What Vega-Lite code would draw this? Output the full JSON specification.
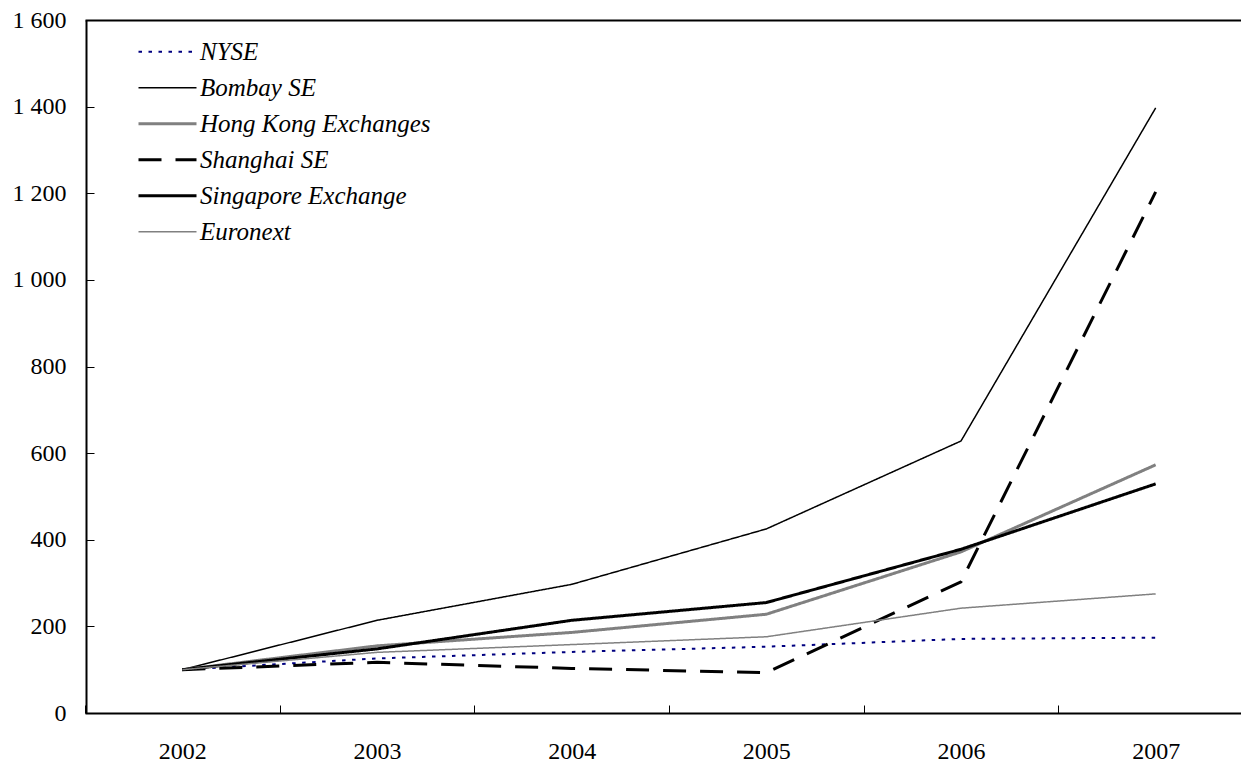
{
  "$schema": "https://vega.github.io/schema/vega-lite/v6.json",
  "autosize": {"type": "none"},
  "padding": {"left": 86, "top": 20, "right": 0, "bottom": 49},
  "width": 1155,
  "height": 693,
  "background": "white",
  "config": {
    "view": {"stroke": null},
    "font": "Liberation Serif"
  },
  "data": {
    "values": [
      {"year": "2002", "series": "NYSE", "value": 100},
      {"year": "2003", "series": "NYSE", "value": 126},
      {"year": "2004", "series": "NYSE", "value": 141},
      {"year": "2005", "series": "NYSE", "value": 153},
      {"year": "2006", "series": "NYSE", "value": 171},
      {"year": "2007", "series": "NYSE", "value": 174},
      {"year": "2002", "series": "Bombay SE", "value": 100},
      {"year": "2003", "series": "Bombay SE", "value": 214},
      {"year": "2004", "series": "Bombay SE", "value": 297},
      {"year": "2005", "series": "Bombay SE", "value": 425},
      {"year": "2006", "series": "Bombay SE", "value": 628},
      {"year": "2007", "series": "Bombay SE", "value": 1397},
      {"year": "2002", "series": "Hong Kong Exchanges", "value": 100},
      {"year": "2003", "series": "Hong Kong Exchanges", "value": 155},
      {"year": "2004", "series": "Hong Kong Exchanges", "value": 186},
      {"year": "2005", "series": "Hong Kong Exchanges", "value": 228},
      {"year": "2006", "series": "Hong Kong Exchanges", "value": 372},
      {"year": "2007", "series": "Hong Kong Exchanges", "value": 573},
      {"year": "2002", "series": "Shanghai SE", "value": 100},
      {"year": "2003", "series": "Shanghai SE", "value": 117},
      {"year": "2004", "series": "Shanghai SE", "value": 103},
      {"year": "2005", "series": "Shanghai SE", "value": 93},
      {"year": "2006", "series": "Shanghai SE", "value": 303},
      {"year": "2007", "series": "Shanghai SE", "value": 1203},
      {"year": "2002", "series": "Singapore Exchange", "value": 100},
      {"year": "2003", "series": "Singapore Exchange", "value": 148},
      {"year": "2004", "series": "Singapore Exchange", "value": 214},
      {"year": "2005", "series": "Singapore Exchange", "value": 255},
      {"year": "2006", "series": "Singapore Exchange", "value": 378},
      {"year": "2007", "series": "Singapore Exchange", "value": 529},
      {"year": "2002", "series": "Euronext", "value": 100},
      {"year": "2003", "series": "Euronext", "value": 140},
      {"year": "2004", "series": "Euronext", "value": 158},
      {"year": "2005", "series": "Euronext", "value": 176},
      {"year": "2006", "series": "Euronext", "value": 242},
      {"year": "2007", "series": "Euronext", "value": 275}
    ]
  },
  "mark": {"type": "line", "strokeCap": "butt", "strokeJoin": "miter"},
  "encoding": {
    "x": {
      "field": "year",
      "type": "ordinal",
      "scale": {"type": "band", "range": [-1, 1167], "paddingInner": 0, "paddingOuter": 0},
      "axis": {
        "title": null,
        "labelAngle": 0,
        "tickBand": "extent",
        "domainColor": "black",
        "domainWidth": 2,
        "tickColor": "black",
        "tickWidth": 1,
        "tickSize": -8,
        "labelPadding": 34,
        "labelFont": "Liberation Serif",
        "labelFontSize": 24,
        "labelColor": "black"
      }
    },
    "y": {
      "field": "value",
      "type": "quantitative",
      "scale": {"domain": [0, 1600], "nice": false},
      "axis": {
        "title": null,
        "values": [0, 200, 400, 600, 800, 1000, 1200, 1400, 1600],
        "labelExpr": "replace(format(datum.value, ','), ',', ' ')",
        "domainColor": "black",
        "domainWidth": 2,
        "tickColor": "black",
        "tickWidth": 1,
        "tickSize": -8,
        "labelPadding": 28,
        "labelFont": "Liberation Serif",
        "labelFontSize": 24,
        "labelColor": "black",
        "grid": true,
        "gridColor": "black",
        "gridWidth": 2,
        "gridOpacity": {"condition": {"test": "datum.value == 1600", "value": 1}, "value": 0}
      }
    },
    "color": {
      "field": "series",
      "type": "nominal",
      "scale": {
        "domain": ["NYSE", "Bombay SE", "Hong Kong Exchanges", "Shanghai SE", "Singapore Exchange", "Euronext"],
        "range": ["#000080", "#000000", "#808080", "#000000", "#000000", "#808080"]
      },
      "legend": {
        "title": null,
        "orient": "none",
        "legendX": 51,
        "legendY": 14,
        "padding": 0,
        "symbolType": "stroke",
        "symbolSize": 3364,
        "clipHeight": 35.6,
        "labelOffset": 2,
        "labelFont": "Liberation Serif",
        "labelFontSize": 25,
        "labelFontStyle": "italic",
        "labelColor": "black",
        "labelLimit": 400,
        "rowPadding": 0
      }
    },
    "strokeDash": {
      "field": "series",
      "type": "nominal",
      "scale": {
        "domain": ["NYSE", "Bombay SE", "Hong Kong Exchanges", "Shanghai SE", "Singapore Exchange", "Euronext"],
        "range": [[3.5, 6.5], [1, 0], [1, 0], [23, 14], [1, 0], [1, 0]]
      },
      "legend": null
    },
    "strokeWidth": {
      "field": "series",
      "type": "nominal",
      "scale": {
        "type": "ordinal",
        "domain": ["NYSE", "Bombay SE", "Hong Kong Exchanges", "Shanghai SE", "Singapore Exchange", "Euronext"],
        "range": [2, 1.5, 3, 3, 3, 1.5]
      },
      "legend": null
    }
  }
}
